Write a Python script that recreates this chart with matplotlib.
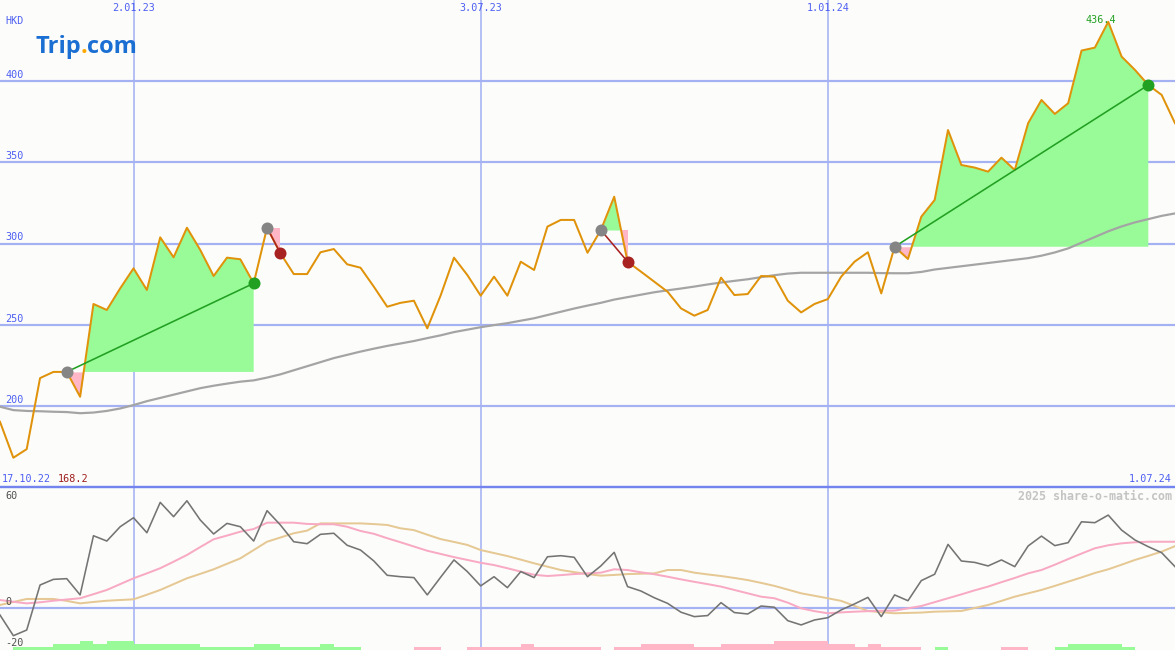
import matplotlib
matplotlib.use('Agg')
import matplotlib.pyplot as plt
import numpy as np
from matplotlib.transforms import blended_transform_factory

# ---------------- data (weekly) ----------------
price = [190.3, 168.2, 173.5, 217.2, 221.0, 221.0, 205.7, 262.8, 259.1, 272.4,
         284.7, 271.4, 303.8, 291.5, 309.7, 296.0, 280.0, 291.3, 290.3, 275.5,
         309.7, 294.0, 281.2, 281.2, 294.6, 296.6, 287.2, 285.1, 273.4, 261.1,
         263.5, 264.8, 247.8, 268.0, 291.3, 280.6, 267.9, 279.6, 267.9, 288.8,
         283.7, 310.4, 314.5, 314.5, 294.3, 308.3, 328.8, 288.8, 282.7, 276.5,
         270.3, 260.1, 255.6, 259.1, 279.0, 268.3, 268.9, 280.0, 279.6, 264.8,
         257.6, 262.8, 265.8, 279.6, 288.8, 294.6, 269.3, 298.0, 290.5, 316.5,
         326.8, 369.8, 348.3, 346.7, 344.2, 352.8, 345.2, 374.0, 388.3, 379.7,
         386.3, 418.7, 420.5, 436.4, 415.0, 406.8, 397.5, 391.4, 374.0]

ma = [199.6, 197.5, 197.0, 196.8, 196.5, 196.3, 195.6, 196.0, 197.0, 198.5,
      200.6, 203.0, 205.0, 207.0, 209.0, 211.0, 212.5, 213.8, 215.0, 215.8,
      217.5, 219.5, 222.0, 224.5, 227.0, 229.5, 231.5, 233.5, 235.3, 237.0,
      238.5, 240.0, 241.8, 243.5, 245.5, 247.0, 248.5, 249.8, 251.0, 252.5,
      254.0, 256.0, 258.0, 260.0, 261.8, 263.5, 265.5, 267.0, 268.5, 270.0,
      271.2, 272.3, 273.5, 274.8, 276.0, 277.0, 278.0, 279.3, 280.5, 281.5,
      282.0, 282.0, 282.0, 282.0, 282.0, 282.0, 281.8, 281.7, 281.7, 282.5,
      284.0, 285.0, 286.0, 287.0, 288.0, 289.0, 290.0, 291.0, 292.5, 294.5,
      297.0, 300.5, 304.0, 307.5, 310.5, 313.0, 315.0, 317.0, 318.5]

osc = [-4.0, -15.7, -12.5, 13.0, 16.2, 16.6, 7.4, 40.9, 37.9, 46.0,
       51.1, 42.6, 59.8, 51.7, 60.7, 49.8, 41.9, 47.9, 46.0, 37.9,
       55.1, 47.0, 37.5, 36.4, 41.7, 42.3, 35.5, 32.8, 26.6, 18.5,
       17.7, 17.2, 7.4, 17.4, 27.2, 20.6, 12.5, 17.7, 11.5, 20.6,
       17.2, 29.0, 29.6, 28.7, 17.7, 23.8, 31.5, 12.1, 9.6, 5.8,
       2.6, -2.4, -4.9, -4.3, 3.0, -2.6, -3.4, 1.1, 0.4, -7.2,
       -9.6, -6.8, -5.5, -1.1, 2.3, 6.0, -4.9, 7.4, 4.1, 15.5,
       19.1, 36.0, 26.6, 25.8, 23.8, 27.2, 23.4, 35.1, 40.7, 35.3,
       37.0, 48.8, 48.3, 52.6, 44.1, 38.5, 34.7, 31.3, 23.4]

osc_fast = [4.5, 3.5, 2.6, 3.2, 4.1, 4.8, 5.5, 7.8, 10.2, 13.5,
            16.8, 19.6, 22.5, 26.2, 30.0, 34.5, 38.9, 41.0, 43.2, 44.7,
            48.3, 48.3, 48.3, 47.6, 47.4, 47.4, 46.0, 43.6, 42.0, 39.5,
            37.2, 34.8, 32.4, 30.6, 28.8, 27.2, 25.6, 24.3, 22.5, 20.6,
            18.8, 18.1, 18.6, 19.2, 19.6, 20.0, 21.9, 21.5, 20.2, 19.1,
            17.7, 16.2, 14.8, 13.5, 12.1, 10.2, 8.3, 6.4, 5.5, 3.0,
            -0.2, -1.8, -3.0, -2.5, -2.1, -1.8, -1.6, -1.5, -0.2, 1.1,
            3.3, 5.5, 7.7, 10.0, 12.1, 14.6, 17.0, 19.6, 21.5, 24.5,
            27.7, 30.8, 33.8, 35.5, 36.6, 37.2, 37.5, 37.5, 37.5]

osc_slow = [1.7, 3.4, 5.1, 5.1, 5.1, 4.0, 2.6, 3.4, 4.1, 4.5,
            4.9, 7.5, 10.2, 13.5, 16.8, 19.3, 21.9, 25.0, 28.1, 32.8,
            37.5, 39.9, 42.3, 43.8, 47.9, 47.9, 47.9, 47.9, 47.5, 47.0,
            45.1, 44.1, 41.5, 39.0, 37.4, 35.7, 32.8, 31.1, 29.4, 27.4,
            25.3, 23.4, 21.5, 20.3, 19.2, 18.3, 18.7, 19.2, 19.4, 19.6,
            21.5, 21.5, 20.0, 19.0, 18.1, 17.0, 15.8, 14.2, 12.5, 10.4,
            8.3, 6.9, 5.5, 4.0, 1.2, -1.7, -2.4, -3.0, -2.8, -2.6,
            -2.1, -1.9, -1.7, 0.0, 1.7, 4.0, 6.4, 8.3, 10.2, 12.5,
            14.9, 17.3, 19.8, 21.9, 24.5, 27.2, 29.5, 31.9, 35.0]

# signed histogram level per week (positive green, negative pink)
hist = [0, 1, 1, 1, 2, 2, 3, 2, 3, 3,
        2, 2, 2, 2, 2, 1, 1, 1, 1, 2,
        2, 1, 1, 1, 2, 1, 1, 0, 0, 0,
        0, -1, -1, 0, 0, -1, -1, -1, -1, -2,
        -1, -1, -1, -1, -1, 0, -1, -1, -2, -2,
        -2, -2, -1, -1, -2, -2, -2, -2, -3, -3,
        -3, -3, -2, -2, -1, -2, -1, -1, -1, 0,
        1, 0, 0, 0, 0, -1, -1, 0, 0, 1,
        2, 2, 2, 2, 1, 0, 0, 0]

trades = [(5, 19), (20, 21), (45, 47), (67, 86)]

price_ticks = [200, 250, 300, 350, 400]
osc_ticks = [60, 0, -20]
date_ticks = [10, 36, 62]
date_labels = ["2.01.23", "3.07.23", "1.01.24"]
start_label = "17.10.22"
end_label = "1.07.24"
currency = "HKD"
watermark = "2025 share-o-matic.com"

# ---------------- styling ----------------
W, H = 1175, 650
split = 487
bg = '#fcfdfa'
grid_c = '#a4b2f4'
axis_c = '#7484ee'
label_c = '#4d5ef2'
orange = '#e0920a'
green_fill = '#98fb98'
pink_fill = '#ffb6c6'
dark_green = '#22a022'
dark_red = '#a82222'
mono = 'DejaVu Sans Mono'
PX = 0.72  # points per pixel

fig = plt.figure(figsize=(W / 100, H / 100), dpi=100)
fig.patch.set_facecolor(bg)
ax = fig.add_axes([0, (H - split) / H, 1, split / H])
ax2 = fig.add_axes([0, 0, 1, (H - split) / H])
for a in (ax, ax2):
    a.set_facecolor(bg)
    for s in a.spines.values():
        s.set_visible(False)
    a.set_xticks([])
    a.set_yticks([])

x = np.arange(len(price))
p = np.array(price)
ax.set_xlim(0, len(price) - 1)
ax2.set_xlim(0, len(price) - 1)
ylo, yhi = 150.2, 449.8
ax.set_ylim(ylo, yhi)
olo, ohi = -23.8, 68.5
ax2.set_ylim(olo, ohi)

# grid
for v in price_ticks:
    ax.axhline(v, color=grid_c, lw=2.2 * PX, zorder=1)
for d in date_ticks:
    ax.axvline(d, color=grid_c, lw=1.6 * PX, zorder=1)
    ax2.axvline(d, color=grid_c, lw=1.6 * PX, zorder=1)
ax2.axhline(0, color=grid_c, lw=2.2 * PX, zorder=1)

# trade fills
for e, xo in trades:
    base = p[e]
    xs = x[e:xo + 1]
    ys = p[e:xo + 1]
    ax.fill_between(xs, base, ys, where=ys >= base, interpolate=True,
                    color=green_fill, lw=0, zorder=2)
    ax.fill_between(xs, base, ys, where=ys < base, interpolate=True,
                    color=pink_fill, lw=0, zorder=2)

# moving average and price
ax.plot(x, ma, color='#a4a4a4', lw=2.2 * PX, zorder=3)
ax.plot(x, p, color=orange, lw=2.0 * PX, zorder=4)

# trade lines and markers
for e, xo in trades:
    win = p[xo] > p[e]
    c = dark_green if win else dark_red
    ax.plot([x[e], x[xo]], [p[e], p[xo]], color=c, lw=1.6 * PX, zorder=5)
    ax.plot(x[e], p[e], 'o', color='#858585', ms=12 * PX, mew=0, zorder=6)
    ax.plot(x[xo], p[xo], 'o', color=c, ms=12 * PX, mew=0, zorder=6)

# price tick labels
tb = blended_transform_factory(ax.transAxes, ax.transData)
for v in price_ticks:
    ax.text(5 / W, v + 3.7, str(v), transform=tb, ha='left', va='center',
            fontsize=7.3, family=mono, color=label_c, zorder=7)
ax.text(5 / W, 1 - 21 / split, currency, transform=ax.transAxes, ha='left',
        va='center', fontsize=7.3, family=mono, color=label_c)
for d, lab in zip(date_ticks, date_labels):
    ax.text(d, 1 - 8 / split, lab,
            transform=blended_transform_factory(ax.transData, ax.transAxes),
            ha='center', va='center', fontsize=7.3, family=mono, color=label_c)
t0 = ax.text(2 / W, 8 / split, start_label, transform=ax.transAxes, ha='left',
             va='center', fontsize=7.3, family=mono, color=label_c)
imin = int(np.argmin(p))
ax.annotate(f"{p[imin]:.1f}", xy=(1, 0.5), xycoords=t0, xytext=(7, 0),
            textcoords='offset pixels', ha='left', va='center',
            fontsize=7.3, family=mono, color='#a01c1c')
ax.text(1 - 3 / W, 8 / split, end_label, transform=ax.transAxes, ha='right',
        va='center', fontsize=7.3, family=mono, color=label_c)
imax = int(np.argmax(p))
ax.annotate(f"{p[imax]:.1f}", xy=(x[imax], p[imax]), xytext=(-7, 2),
            textcoords='offset pixels', ha='center', va='center',
            fontsize=7.3, family=mono, color=dark_green, zorder=7)

# logo
lt = fig.text(35 / W, 1 - 53 / H, "Trip", ha='left', va='baseline',
              fontsize=17, family='Open Sans', weight='bold', color='#1b6fd3')
ld = ax.annotate(".", xy=(1, 0), xycoords=lt, ha='left', va='bottom',
                 fontsize=17, family='Open Sans', weight='bold', color='#ffa800')
ax.annotate("com", xy=(1, 0), xycoords=ld, ha='left', va='bottom',
            fontsize=17, family='Open Sans', weight='bold', color='#1b6fd3')

# separator
fig.add_artist(plt.Line2D([0, 1], [(H - split) / H] * 2, color=axis_c,
                          lw=2.4 * PX, transform=fig.transFigure))

# lower panel
ax2.plot(x, osc_slow, color='#e6c894', lw=2.0 * PX, zorder=3)
ax2.plot(x, osc_fast, color='#f8aac4', lw=2.0 * PX, zorder=3)
ax2.plot(x, osc, color='#747474', lw=1.6 * PX, zorder=4)
tb2 = blended_transform_factory(ax2.transAxes, ax2.transData)
for v in osc_ticks:
    ty = v + 3.3 if v - olo > 8 else olo + 4.0
    ax2.text(5 / W, ty, str(v), transform=tb2,
             ha='left', va='center', fontsize=7.3, family=mono, color='#505050')
ax2.text(1 - 3 / W, 1 - 9 / (H - split), watermark, transform=ax2.transAxes,
         ha='right', va='center', fontsize=8.4, family=mono, weight='bold',
         color='#c4c4c4')

axb = ax2.twinx()
axb.set_ylim(0, (H - split) / 3.0)
axb.set_axis_off()
hv = np.array(hist)
axb.bar(np.arange(len(hist)), np.abs(hv), width=1.0, align='edge',
        color=[green_fill if h > 0 else pink_fill for h in hv], lw=0)
axb.set_xlim(0, len(price) - 1)

fig.savefig('out.png', dpi=100, facecolor=bg)
